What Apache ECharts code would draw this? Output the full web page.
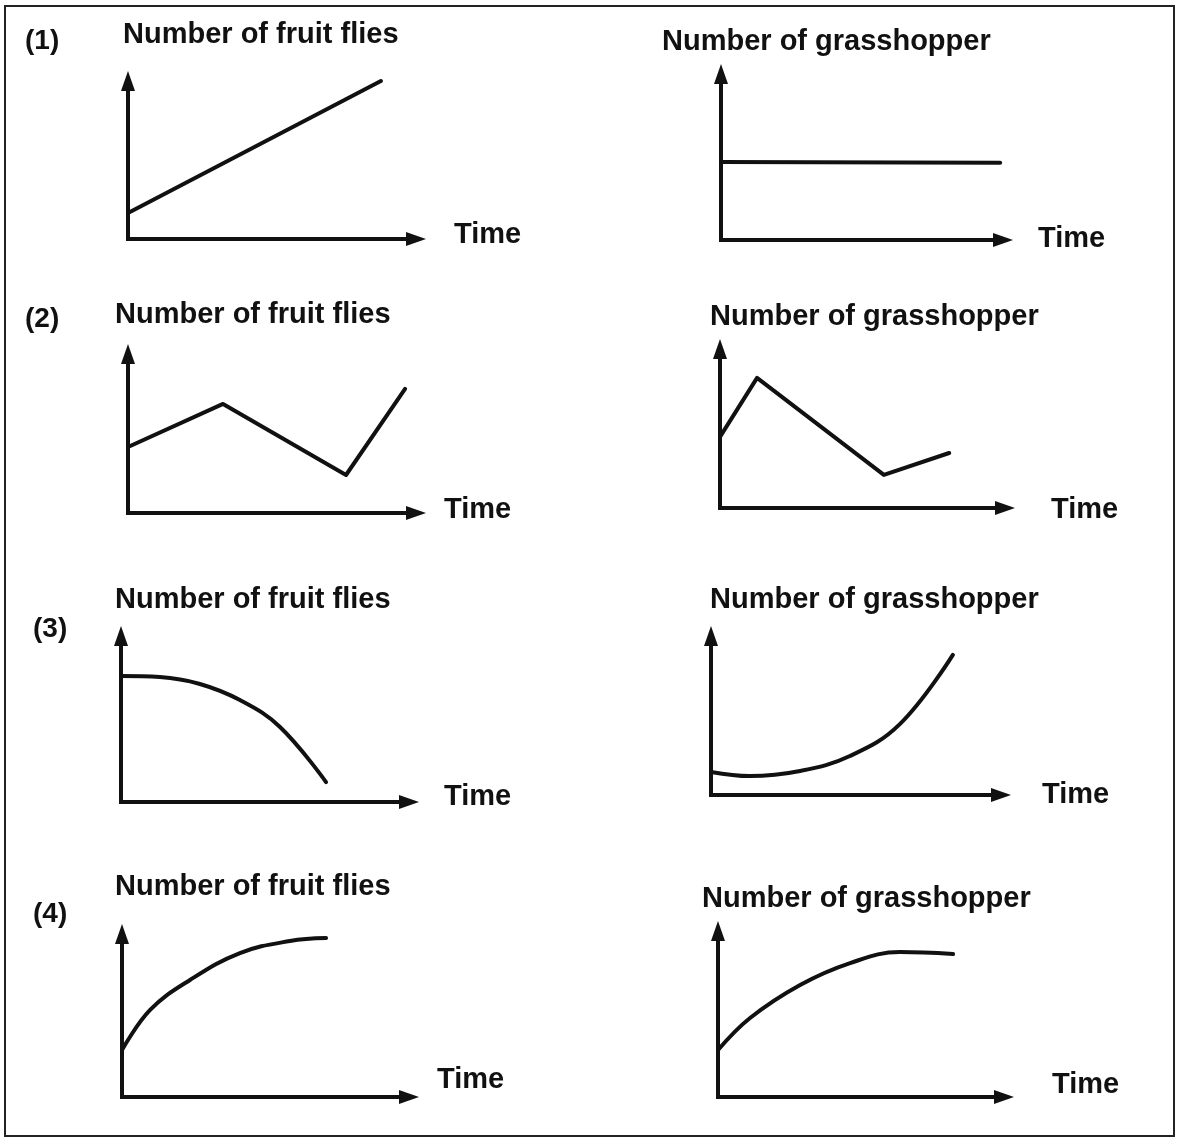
<!DOCTYPE html>
<html>
<head>
<meta charset="utf-8">
<script src="https://cdn.jsdelivr.net/npm/echarts@6/dist/echarts.min.js"></script>
<style>
  html, body { margin: 0; padding: 0; background: #fff; }
  #main { width: 1182px; height: 1142px; }
</style>
</head>
<body>
<div id="main"></div>
<script>
// text
var panelLabels = ['(1)', '(2)', '(3)', '(4)'];
var yNames = ['Number of fruit flies', 'Number of grasshopper'];
var xName = 'Time';

// curves, [time, number] on a 0-10 scale for each small chart
var flies1 = [[0, 1.65], [8.78, 10]];
var hopper1 = [[0, 4.7], [9.9, 4.65]];
var flies2 = [[0, 4.15], [3.3, 6.86], [7.57, 2.39], [9.62, 7.8]];
var hopper2 = [[0, 4.47], [1.3, 8.18], [5.75, 2.08], [8.04, 3.46]];
var flies3 = [[0, 7.59], [1.35, 7.53], [2.74, 7.11], [4.13, 6.14], [5.52, 4.52], [7.12, 1.2]];
var hopper3 = [[0, 1.45], [1.34, 1.19], [3.07, 1.51], [4.79, 2.45], [6.52, 4.47], [8.34, 8.81]];
var flies4 = [[0, 2.88], [0.98, 5.34], [2.37, 7.18], [4.11, 8.83], [5.85, 9.57], [7.11, 9.75]];
var hopper4 = [[0, 2.83], [1.12, 4.76], [2.87, 6.75], [4.62, 8.07], [6.36, 8.73], [8.22, 8.61]];

var curves = [flies1, hopper1, flies2, hopper2, flies3, hopper3, flies4, hopper4];
var smoothing = [false, false, false, false, 0.4, 0.4, 0.4, 0.4];

// layout of the 8 small charts: left, top, width, height (px)
var boxes = [
    [128, 81, 288, 158], [721, 74, 282, 166],
    [128, 354, 288, 159], [720, 349, 285, 159],
    [121, 636, 288, 166], [711, 636, 290, 159],
    [122, 934, 287, 163], [718, 931, 286, 166]
];
// title start x and centre y
var titlePos = [[123, 33], [662, 40], [115, 313], [710, 315], [115, 598], [710, 598], [115, 885], [702, 897]];
// 'Time' start x and centre y
var timePos = [[454, 233], [1038, 237], [444, 508], [1051, 508], [444, 795], [1042, 793], [437, 1078], [1052, 1083]];
var labelPos = [[25, 40], [25, 318], [33, 628], [33, 913]];

var ink = '#111';
var font = 'Liberation Sans';

var grid = [], xAxis = [], yAxis = [], series = [], title = [];

function axisLine() {
    return {
        show: true,
        onZero: false,
        symbol: ['none', 'triangle'],
        symbolSize: [14, 20],
        lineStyle: { color: ink, width: 4, cap: 'square' }
    };
}

function label(text, x, y, size) {
    return {
        text: text, left: x, top: y - 13, padding: 0,
        textStyle: { color: ink, fontFamily: font, fontWeight: 'bold', fontSize: size }
    };
}

for (var i = 0; i < 8; i++) {
    var b = boxes[i];
    grid.push({ left: b[0], top: b[1], width: b[2], height: b[3], containLabel: false });
    xAxis.push({
        type: 'value', gridIndex: i, min: 0, max: 10,
        axisLine: axisLine(), axisTick: { show: false }, axisLabel: { show: false }, splitLine: { show: false }
    });
    yAxis.push({
        type: 'value', gridIndex: i, min: 0, max: 10,
        axisLine: axisLine(), axisTick: { show: false }, axisLabel: { show: false }, splitLine: { show: false }
    });
    series.push({
        type: 'line', xAxisIndex: i, yAxisIndex: i,
        data: curves[i], smooth: smoothing[i], showSymbol: false, clip: false,
        lineStyle: { color: ink, width: 4, cap: 'round', join: 'round' }
    });
    title.push(label(yNames[i % 2], titlePos[i][0], titlePos[i][1], 29));
    title.push(label(xName, timePos[i][0], timePos[i][1], 29));
}

for (var k = 0; k < 4; k++) {
    title.push(label(panelLabels[k], labelPos[k][0], labelPos[k][1], 28));
}

var chart = echarts.init(document.getElementById('main'));
chart.setOption({
    backgroundColor: '#fff',
    animation: false,
    title: title,
    grid: grid,
    xAxis: xAxis,
    yAxis: yAxis,
    series: series,
    graphic: [{
        type: 'rect',
        shape: { x: 5, y: 6, width: 1169, height: 1130 },
        style: { fill: 'none', stroke: '#222', lineWidth: 2 }
    }]
});
</script>
</body>
</html>
